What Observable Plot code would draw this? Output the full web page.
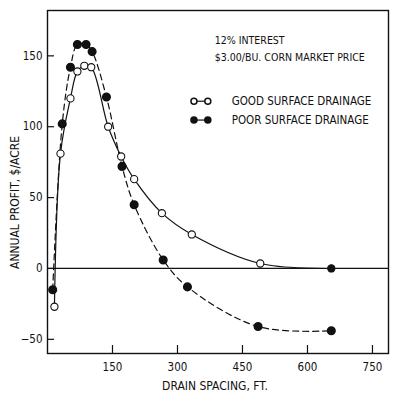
<!DOCTYPE html>
<html><head><meta charset="utf-8">
<script src="https://cdn.jsdelivr.net/npm/d3@7"></script>
<script src="https://cdn.jsdelivr.net/npm/@observablehq/plot@0.6"></script>
<style>
body{margin:0;background:#fff;}
#chart{position:relative;width:396px;height:405px;}
svg{font-family:"Liberation Sans Narrow","DejaVu Sans Condensed","Liberation Sans",sans-serif;}
</style>
</head><body><div id="chart"></div>
<script>
const goodX = [16, 30, 53, 69, 85, 101, 140, 170, 200, 264, 333, 491, 655];
const goodY = [-27, 81, 120, 139, 143, 142, 100, 79, 63, 39, 24, 3.5, 0];
const poorX = [12, 34, 53, 69, 89, 103, 136, 172, 200, 267, 323, 486, 655];
const poorY = [-15, 102, 142, 158, 158, 153, 121, 72, 45, 6, -13, -41, -44];
const xTicks = [150, 300, 450, 600, 750];
const yTicks = [-50, 0, 50, 100, 150];
const noteLines = ["12% INTEREST", "$3.00/BU. CORN MARKET PRICE"];
const legendLabels = ["GOOD SURFACE DRAINAGE", "POOR SURFACE DRAINAGE"];

const good = goodX.map((x, i) => ({x, y: goodY[i]}));
const poor = poorX.map((x, i) => ({x, y: poorY[i]}));
const notes = noteLines.map((t, i) => ({t, x: 386, y: 160.5 - i * 12}));
const legend = legendLabels.map((t, i) => ({t, i, x1: 338, x2: 370, xt: 425, y: 118 - i * 13.3}));

const plot = Plot.plot({
  width: 396, height: 405,
  marginLeft: 47, marginRight: 8, marginTop: 10, marginBottom: 52,
  x: {domain: [0, 787]},
  y: {domain: [-60, 182]},
  style: {fontSize: "11.5px", color: "#111"},
  marks: [
    Plot.frame({stroke: "#111", strokeWidth: 1.4}),
    Plot.ruleY([0], {stroke: "#111", strokeWidth: 1.3}),
    Plot.axisX({ticks: xTicks, tickSize: -8, tickPadding: 17, label: null, stroke: "#111", strokeWidth: 1.2}),
    Plot.axisY({ticks: yTicks, tickSize: -7, tickPadding: 12, label: null, stroke: "#111", strokeWidth: 1.2}),
    Plot.line(good, {x: "x", y: "y", curve: "catmull-rom", stroke: "#111", strokeWidth: 1.2}),
    Plot.line(poor, {x: "x", y: "y", curve: "catmull-rom", stroke: "#111", strokeWidth: 1.2, strokeDasharray: "6,4"}),
    Plot.dot(good, {x: "x", y: "y", r: 3.6, fill: (d, i) => i === good.length - 1 ? "#111" : "#fff", stroke: "#111", strokeWidth: 1.1}),
    Plot.dot(poor, {x: "x", y: "y", r: 3.8, fill: "#111", stroke: "#111"}),
    Plot.text(notes, {x: "x", y: "y", text: "t", textAnchor: "start", fontSize: 10.5, fill: "#111"}),
    Plot.link(legend, {x1: "x1", x2: "x2", y1: "y", y2: "y", stroke: "#111", strokeWidth: 1.2, strokeDasharray: d => d.i ? "4,3" : null}),
    Plot.dot(legend, {x: "x1", y: "y", r: 3, fill: d => d.i ? "#111" : "#fff", stroke: "#111"}),
    Plot.dot(legend, {x: "x2", y: "y", r: 3, fill: d => d.i ? "#111" : "#fff", stroke: "#111"}),
    Plot.text(legend, {x: "xt", y: "y", text: "t", textAnchor: "start", fontSize: 11.5, fill: "#111"}),
    Plot.text(["ANNUAL PROFIT, $/ACRE"], {frameAnchor: "left", dx: -32, dy: 87, rotate: -90, fontSize: 12, fill: "#111"}),
    Plot.text(["DRAIN SPACING, FT."], {frameAnchor: "bottom", dx: -3, dy: 36, fontSize: 12, fill: "#111"})
  ]
});
document.getElementById("chart").appendChild(plot);
</script>
</body></html>
